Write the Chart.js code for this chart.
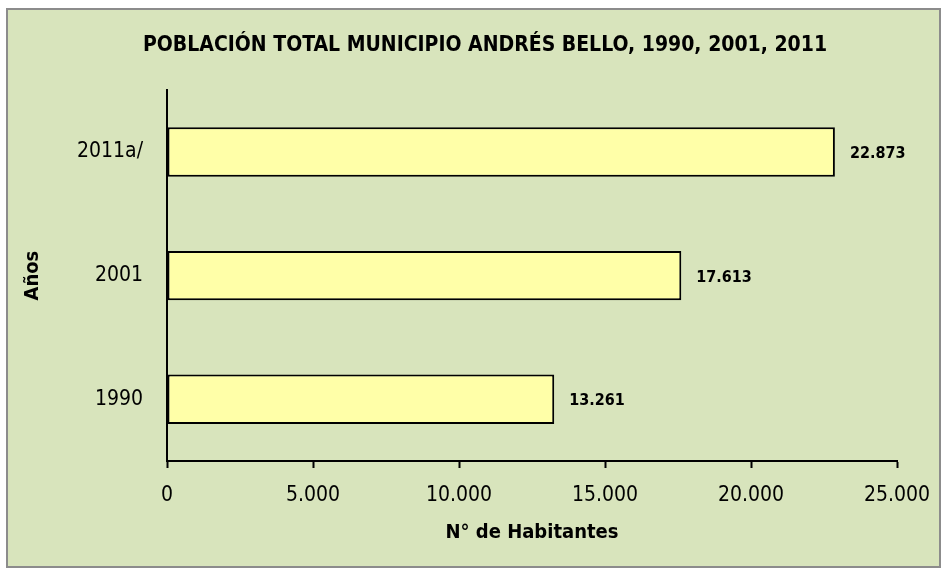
<!DOCTYPE html>
<html>
<head>
<meta charset="utf-8">
<script src="https://cdn.jsdelivr.net/npm/chart.js@4"></script>
<style>
  body { margin: 0; background: #fff; }
  #wrap { width: 947px; height: 575px; }
</style>
</head>
<body>
<div id="wrap"><canvas id="chart" width="947" height="575"></canvas></div>
<script>
// data
const years = ['2011a/', '2001', '1990'];
const population = [22873, 17613, 13261];
const xTicks = [0, 5000, 10000, 15000, 20000, 25000];

const narrow = '"DejaVu Sans Condensed", "Liberation Sans Narrow", "Arial Narrow", sans-serif';

function fmt(v) {
    return String(v).replace(/\B(?=(\d{3})+(?!\d))/g, '.');
}

// green panel with grey frame behind everything
const panel = {
    id: 'panel',
    beforeDraw(chart) {
        const ctx = chart.ctx;
        ctx.save();
        ctx.fillStyle = '#ffffff';
        ctx.fillRect(0, 0, chart.width, chart.height);
        ctx.fillStyle = '#d8e4bc';
        ctx.strokeStyle = '#8c8c8c';
        ctx.lineWidth = 2;
        ctx.fillRect(7, 9, 933, 558);
        ctx.strokeRect(7, 9, 933, 558);
        ctx.restore();
    }
};

// value labels right of each bar
const valueLabels = {
    id: 'valueLabels',
    afterDatasetsDraw(chart) {
        const ctx = chart.ctx;
        const meta = chart.getDatasetMeta(0);
        ctx.save();
        ctx.font = 'bold 16px ' + narrow;
        ctx.fillStyle = '#000';
        ctx.textBaseline = 'middle';
        meta.data.forEach((bar, i) => {
            ctx.fillText(fmt(population[i]), bar.x + 15, bar.y + 2);
        });
        ctx.restore();
    }
};

const div = document.getElementById('chart');
new Chart(div, {
    type: 'bar',
    data: {
        labels: years,
        datasets: [{
            data: population,
            backgroundColor: '#ffffa8',
            borderColor: '#000000',
            borderWidth: 2,
            borderSkipped: false,
            barPercentage: 0.8,
            categoryPercentage: 0.5,
        }]
    },
    options: {
        indexAxis: 'y',
        responsive: false,
        animation: false,
        layout: { padding: { left: 73, right: 50, top: 0, bottom: 0 } },
        plugins: {
            legend: { display: false },
            tooltip: { enabled: false },
            title: {
                display: true,
                text: 'POBLACIÓN TOTAL MUNICIPIO ANDRÉS BELLO, 1990, 2001, 2011',
                color: '#000',
                font: { family: narrow, size: 21, weight: 'bold', lineHeight: 1.2 },
                padding: { top: 33, bottom: 32 }
            }
        },
        scales: {
            x: {
                min: 0,
                max: 25000,
                afterBuildTicks(scale) {
                    scale.ticks = xTicks.map(v => ({ value: v }));
                },
                afterFit(scale) { scale.height = 114; },
                grid: {
                    drawOnChartArea: false,
                    drawTicks: true,
                    tickLength: 7,
                    tickWidth: 2,
                    color: '#000'
                },
                border: { display: true, color: '#000', width: 2 },
                ticks: {
                    color: '#000',
                    padding: 15,
                    font: { family: narrow, size: 21 },
                    callback: v => fmt(v)
                },
                title: {
                    display: true,
                    text: 'N° de Habitantes',
                    color: '#000',
                    font: { family: narrow, size: 20, weight: 'bold' },
                    padding: { top: 4, bottom: 30 }
                }
            },
            y: {
                afterFit(scale) { scale.width = 94; },
                grid: { drawOnChartArea: false, drawTicks: false },
                border: { display: true, color: '#000', width: 2 },
                ticks: {
                    color: '#000',
                    padding: 24,
                    font: { family: narrow, size: 21 }
                },
                title: {
                    display: true,
                    text: 'Años',
                    color: '#000',
                    font: { family: narrow, size: 20, weight: 'bold' },
                    padding: { top: -52, bottom: 0 }
                }
            }
        }
    },
    plugins: [panel, valueLabels]
});
</script>
</body>
</html>
